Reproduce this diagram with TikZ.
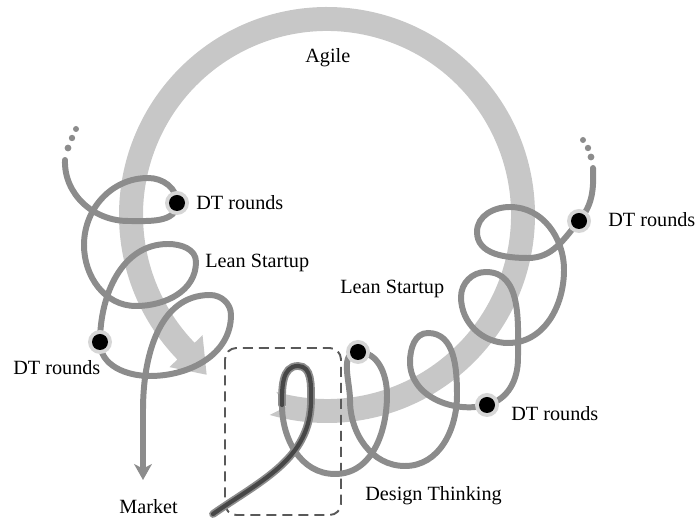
\documentclass[tikz,border=0pt]{standalone}
\usepackage{fontspec}
\setmainfont{Liberation Serif}
\usetikzlibrary{arrows.meta}

\definecolor{agilegray}{gray}{0.78}
\definecolor{coilgray}{gray}{0.55}
\definecolor{darkcoil}{gray}{0.28}
\definecolor{halogray}{gray}{0.84}
\definecolor{boxgray}{gray}{0.35}

\tikzset{
  coil/.style={draw=coilgray,line width=3.4pt,line cap=round},
  lbl/.style={font=\fontsize{11.5}{14}\selectfont,inner sep=0pt,anchor=base west},
}

\begin{document}
\begin{tikzpicture}[x=0.02cm,y=0.02cm]
    \useasboundingbox (0,0) rectangle (700,-519);
    \fill[agilegray,shift={(327,-215)}](-106:184)arc[start angle=-106,end angle=224,radius=184]--(224:173)--(233:200)--(224:219)--(224:208)arc[start angle=224,end angle=-106,radius=208]--(-102:196)--cycle;
    \draw[boxgray,line width=1.1pt,dash pattern=on 5.7pt off 3.4pt,rounded corners=6.5pt](225,-348)rectangle(341,-515);
    \coordinate (dtA) at (177,-203);
    \coordinate (dtB) at (100,-342);
    \coordinate (dtC) at (579,-221);
    \coordinate (dtD) at (487,-405);
    \coordinate (dtE) at (358,-352);
    \coordinate (market) at (143,-480);
    \fill[coilgray] (76,-129) circle (3) (72,-138) circle (3.2) (68,-148) circle (3.4);
    \fill[coilgray] (583,-140) circle (3) (588,-148) circle (3.2) (591,-157) circle (3.4);
    \draw[coil,-{Stealth[length=9pt,width=10pt,inset=2.5pt]}] (65,-160) to[out=-92,in=180] (128,-221) to[out=0,in=-90] (dtA) to[out=90,in=0] (148,-178) to[out=180,in=90] (84,-245) to[out=-90,in=180] (136,-306) to[out=0,in=-90] (196,-262) to[out=90,in=0] (168,-244) to[out=180,in=90] (dtB) to[out=-90,in=180] (150,-376) to[out=0,in=-90] (231,-315) to[out=90,in=0] (210,-295) to[out=180,in=90] (143,-410) -- (market);
    \draw[coil] (213,-514) to[out=35,in=-90] (311,-400) to[out=90,in=0] (298,-366) to[out=180,in=90] (282,-405) to[out=-90,in=180] (335,-474) to[out=0,in=-90] (387,-395) to[out=90,in=0] (dtE) to[out=180,in=90] (350,-400) to[out=-90,in=180] (405,-466) to[out=0,in=-90] (457,-395) to[out=90,in=0] (428,-333) to[out=180,in=90] (410,-362) to[out=-90,in=195] (dtD) to[out=15,in=-90] (518,-358) to[out=90,in=0] (486,-272) to[out=180,in=90] (461,-297) to[out=-90,in=180] (508,-343) to[out=0,in=-90] (564,-270) to[out=90,in=0] (510,-207) to[out=180,in=90] (477,-232) to[out=-90,in=180] (528,-258) to[out=0,in=230] (dtC) to[out=50,in=-88] (593,-168);
    \draw[coilgray,line width=4.4pt,line cap=round] (213,-514) to[out=35,in=-90] (311,-400) to[out=90,in=0] (298,-366) to[out=180,in=90] (282,-405);
    \draw[darkcoil,line width=2.4pt,line cap=round] (213,-514) to[out=35,in=-90] (311,-400) to[out=90,in=0] (298,-366) to[out=180,in=90] (282,-405);
    \foreach \p in {dtA,dtB,dtC,dtD,dtE}{
        \fill[halogray] (\p) circle (12);
        \fill (\p) circle (8);
    }
    \node[lbl] (agile) at (305,-63) {Agile};
    \node[lbl] (dtAl) at (196,-210) {DT rounds};
    \node[lbl] (leanL) at (205,-268) {Lean Startup};
    \node[lbl] (dtBl) at (13,-375) {DT rounds};
    \node[lbl] (dtCl) at (608,-227) {DT rounds};
    \node[lbl] (leanR) at (340,-294) {Lean Startup};
    \node[lbl] (dtDl) at (511,-421) {DT rounds};
    \node[lbl] (marketl) at (119,-514) {Market};
    \node[lbl] (design) at (365,-501) {Design Thinking};
\end{tikzpicture}
\end{document}
